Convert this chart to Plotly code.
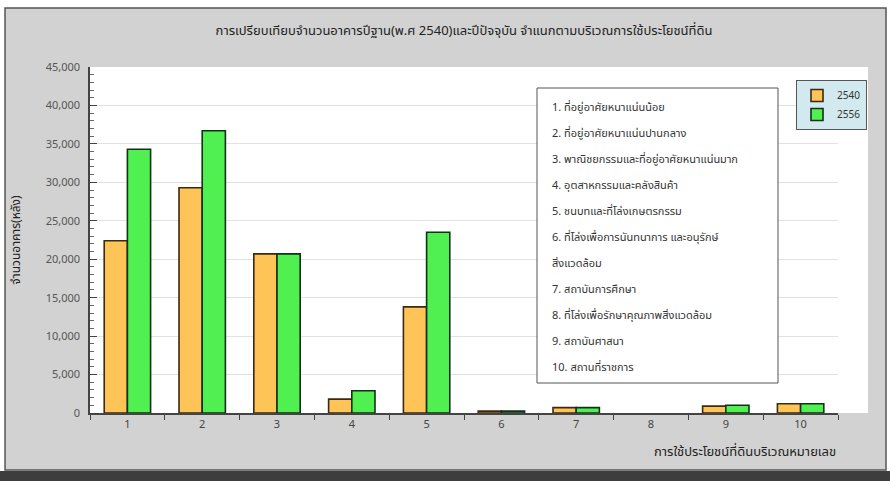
import plotly.graph_objects as go

# Land-use zone numbers and building counts for the base year and the current year
zones = ["1", "2", "3", "4", "5", "6", "7", "8", "9", "10"]
buildings_2540 = [22400, 29300, 20700, 1800, 13800, 250, 700, 0, 900, 1200]
buildings_2556 = [34300, 36700, 20700, 2900, 23500, 250, 700, 0, 1000, 1200]
series_names = ["2540", "2556"]
y_ticks = [0, 5000, 10000, 15000, 20000, 25000, 30000, 35000, 40000, 45000]

# Key to the zone numbers (item 6 runs over two lines)
zone_lines = [
    "1. ที่อยู่อาศัยหนาแน่นน้อย",
    "2. ที่อยู่อาศัยหนาแน่นปานกลาง",
    "3. พาณิชยกรรมและที่อยู่อาศัยหนาแน่นมาก",
    "4. อุตสาหกรรมและคลังสินค้า",
    "5. ชนบทและที่โล่งเกษตรกรรม",
    "6. ที่โล่งเพื่อการนันทนาการ และอนุรักษ์",
    "สิ่งแวดล้อม",
    "7. สถาบันการศึกษา",
    "8. ที่โล่งเพื่อรักษาคุณภาพสิ่งแวดล้อม",
    "9. สถาบันศาสนา",
    "10. สถานที่ราชการ",
]

title_text = "การเปรียบเทียบจำนวนอาคารปีฐาน(พ.ศ 2540)และปีปัจจุบัน จำแนกตามบริเวณการใช้ประโยชน์ที่ดิน"
x_title = "การใช้ประโยชน์ที่ดินบริเวณหมายเลข"
y_title = "จำนวนอาคาร(หลัง)"

FONT = "Noto Sans Thai, Tahoma, DejaVu Sans, sans-serif"
W, H = 890, 481
L, R, T, B = 90, 52, 67, 68
PW, PH = W - L - R, H - T - B


def px_x(p):
    return (p - L) / PW


def px_y(p):
    return (H - B - p) / PH


def outline_widths(values):
    # no outline for empty categories so nothing is drawn there
    return [1.6 if v > 0 else 0 for v in values]


fig = go.Figure()
fig.add_trace(go.Bar(
    x=zones, y=buildings_2540, name=series_names[0],
    marker=dict(color="#FFC457",
                line=dict(color="#3b2a10", width=outline_widths(buildings_2540))),
))
fig.add_trace(go.Bar(
    x=zones, y=buildings_2556, name=series_names[1],
    marker=dict(color="#4FF04F",
                line=dict(color="#12301a", width=outline_widths(buildings_2556))),
))

shapes = [
    # outer frame
    dict(type="rect", xref="paper", yref="paper", x0=px_x(5), x1=px_x(886),
         y0=px_y(470), y1=px_y(8), line=dict(color="#555555", width=1.5),
         fillcolor="#d2d2d2", layer="below"),
    # white plotting panel
    dict(type="rect", xref="paper", yref="paper", x0=0, x1=px_x(868),
         y0=0, y1=1, line=dict(width=0), fillcolor="#ffffff", layer="below"),
    # dark strip along the bottom
    dict(type="rect", xref="paper", yref="paper", x0=px_x(0), x1=px_x(890),
         y0=px_y(481), y1=px_y(471), line=dict(width=0), fillcolor="#3d3d3d",
         layer="below"),
    # box around the zone key
    dict(type="rect", xref="paper", yref="paper", x0=px_x(537), x1=px_x(778),
         y0=px_y(383), y1=px_y(88), line=dict(color="#555555", width=1),
         fillcolor="#ffffff", layer="above"),
]

annotations = []
line_top, line_step = 107, 26
for i, txt in enumerate(zone_lines):
    annotations.append(dict(
        text=txt, xref="paper", yref="paper",
        x=px_x(550), y=px_y(line_top + i * line_step),
        xanchor="left", yanchor="middle", showarrow=False, align="left",
        font=dict(family=FONT, size=11, color="#333333"),
    ))

annotations.append(dict(
    text=x_title, xref="paper", yref="paper", x=1, y=px_y(452),
    xanchor="right", yanchor="middle", showarrow=False,
    font=dict(family=FONT, size=13, color="#222222"),
))

fig.update_layout(
    width=W, height=H,
    margin=dict(l=L, r=R, t=T, b=B),
    paper_bgcolor="#ffffff",
    plot_bgcolor="rgba(0,0,0,0)",
    barmode="group", bargap=0.38, bargroupgap=0,
    title=dict(text=title_text, x=0.5, xref="paper", y=1 - 30 / H,
               yanchor="middle",
               font=dict(family=FONT, size=13, color="#222222")),
    font=dict(family=FONT, size=11, color="#444444"),
    showlegend=True,
    legend=dict(x=px_x(796), y=px_y(80), xanchor="left", yanchor="top",
                bgcolor="#d3e9f0", bordercolor="#555555", borderwidth=1,
                font=dict(family=FONT, size=10, color="#333333"),
                itemwidth=30),
    shapes=shapes,
    annotations=annotations,
    xaxis=dict(
        showline=True, linecolor="#444444", linewidth=1.5,
        ticks="outside", ticklen=5, tickcolor="#444444", tickson="boundaries",
        tickfont=dict(size=11, color="#444444"), showgrid=False,
    ),
    yaxis=dict(
        range=[0, 45000], tickvals=y_ticks, tickformat=",d",
        showline=True, linecolor="#444444", linewidth=1.5,
        ticks="inside", ticklen=7, tickcolor="#444444",
        minor=dict(ticks="inside", ticklen=4, dtick=1000, tickcolor="#666666"),
        showgrid=True, gridcolor="#e2e2e2", gridwidth=1,
        tickfont=dict(size=11, color="#555555"), ticklabelstandoff=6,
        title=dict(text=y_title, standoff=22,
                   font=dict(family=FONT, size=12, color="#222222")),
    ),
)

fig.write_html("out.html")
